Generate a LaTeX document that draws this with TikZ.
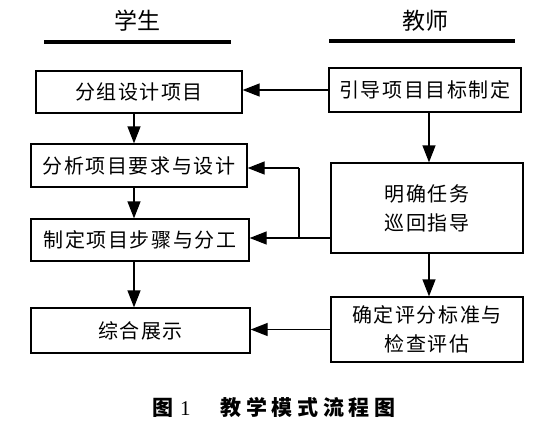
\documentclass[tikz,border=0pt]{standalone}
\usepackage{fontspec}
\setmainfont{Noto Sans CJK SC}
\newfontfamily\boxfont[LetterSpace=8]{Noto Sans CJK SC}
\newfontfamily\capfont[LetterSpace=22]{Noto Sans CJK SC}
\newfontfamily\numfont{Liberation Serif}
\usetikzlibrary{arrows.meta}
\begin{document}
\begin{tikzpicture}[x=1pt,y=-1pt,
  box/.style={draw, line width=1.3pt, font=\boxfont\fontsize{20}{29}\selectfont, align=center, inner sep=0pt},
  arr/.style={line width=1.3pt, -{Triangle[length=17pt,width=13pt]}},
  ln/.style={line width=1.3pt},
  bar/.style={line width=4.5pt},
  head/.style={font=\fontsize{23}{23}\selectfont}]
\useasboundingbox (0,0) rectangle (552,432);
% headers
\node[head] (hs) at (137,21) {学生};
\node[head] (ht) at (425,21) {教师};
\draw[bar] (44,42) -- (231,42);
\draw[bar] (329,41) -- (515,41);
% student column
\node[box, minimum width=206pt, minimum height=42pt] (fz) at (139,92) {分组设计项目};
\node[box, minimum width=216pt, minimum height=43pt] (fx) at (139,165.5) {分析项目要求与设计};
\node[box, minimum width=218pt, minimum height=42pt] (zd) at (140,240) {制定项目步骤与分工};
\node[box, minimum width=219pt, minimum height=45pt] (zh) at (140.5,330.5) {综合展示};
% teacher column
\node[box, minimum width=192pt, minimum height=44pt] (yd) at (425,90) {引导项目目标制定};
\node[box, minimum width=192pt, minimum height=90pt] (mq) at (427,208) {明确任务\\巡回指导};
\node[box, minimum width=192pt, minimum height=65pt] (qd) at (427,329.5) {确定评分标准与\\检查评估};
% helper coordinates
\coordinate (lc) at (134,0);
\coordinate (rc) at (429,0);
\coordinate (j) at (299,238);
\coordinate (j2) at (299,168);
% connectors
\draw[arr] (yd.west) -- (yd.west -| fz.east);
\draw[arr] (fz.south -| lc) -- (fx.north -| lc);
\draw[arr] (fx.south -| lc) -- (zd.north -| lc);
\draw[arr] (zd.south -| lc) -- (zh.north -| lc);
\draw[arr] (yd.south -| rc) -- (mq.north -| rc);
\draw[arr] (mq.south -| rc) -- (qd.north -| rc);
\draw[arr] (mq.west |- j) -- (zd.east |- j);
\draw[ln] (j) -- (j2);
\draw[arr] (j2) -- (fx.east |- j2);
\draw[arr] (qd.west) -- (qd.west -| zh.east);
% caption
\node[anchor=west, font=\fontsize{21}{21}\selectfont, inner sep=0pt] (cap) at (152,407) {{\bfseries 图}\hspace{7pt}{\numfont 1}\hspace{30pt}{\capfont\bfseries 教学模式流程图}};
\end{tikzpicture}
\end{document}
